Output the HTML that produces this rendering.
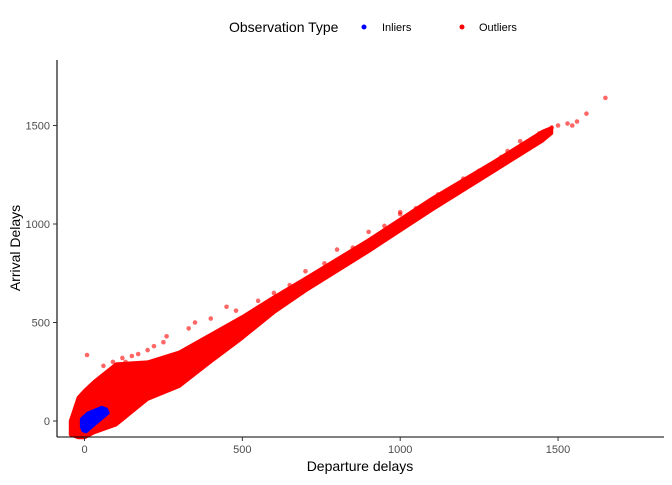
<!DOCTYPE html>
<html><head><meta charset="utf-8"><style>
body{margin:0;background:#fff;font-family:"Liberation Sans",sans-serif}
svg text{font-family:"Liberation Sans",sans-serif}
</style></head><body>
<svg width="672" height="480" id="chart">
<g>
<text x="229" y="32" font-size="14" fill="#000">Observation Type</text>
<circle cx="364" cy="27" r="2.5" fill="#0000ff"/>
<text x="382" y="31" font-size="11">Inliers</text>
<circle cx="462" cy="27" r="2.5" fill="#ff0000"/>
<text x="479" y="31" font-size="11">Outliers</text>
</g>
<g id="plot"></g>
<line x1="57" y1="60" x2="57" y2="437" stroke="#000" stroke-width="1.1"/>
<line x1="57" y1="437" x2="664" y2="437" stroke="#000" stroke-width="1.1"/>
<g id="axes"></g>
<text x="360" y="471" font-size="14" text-anchor="middle">Departure delays</text>
<text transform="translate(20,248) rotate(-90)" font-size="14" text-anchor="middle">Arrival Delays</text>
</svg>
<script>
const xTicks=[0,500,1000,1500];
const yTicks=[0,500,1000,1500];
const bandX=[-45,-20,0,30,100,200,300,400,500,600,700,900,1100,1300,1450,1480];
const bandTop=[0,120,155,200,290,300,350,440,530,630,725,920,1130,1320,1470,1490];
const bandBot=[-70,-85,-85,-60,-20,110,175,300,420,550,660,860,1070,1270,1420,1460];
const inlierX=[-10,-5,5,30,75,70,55,10,-10];
const inlierY=[-30,-50,-55,-20,40,60,70,40,10];
const outX=[8,1650,1590,1500,1480,1430,1400,1320,1290,1250,1230,1200,1150,1100,1050,1000,200,250,330,400,600,700,800,1000,550,150,120,90,60,260,350,450,650,900,1380,1440,1340,1530,1545,1560,1460,1410,1360,1180,1120,950,850,760,480,220,170,130];
const outY=[335,1640,1560,1500,1490,1430,1380,1340,1300,1270,1240,1230,1170,1120,1080,1050,360,400,470,520,650,760,870,1060,610,330,320,300,280,430,500,580,690,960,1420,1460,1370,1510,1500,1520,1450,1400,1350,1190,1150,990,880,800,560,380,340,300];
const X=v=>84.5+v*0.3157, Y=v=>421-v*0.197;
const NS='http://www.w3.org/2000/svg';
const plot=document.getElementById('plot'), axes=document.getElementById('axes');
function mk(t,a,p){const e=document.createElementNS(NS,t);for(const k in a)e.setAttribute(k,a[k]);p.appendChild(e);return e;}
let pts=bandX.map((x,i)=>X(x)+','+Y(bandTop[i]));
for(let i=bandX.length-1;i>=0;i--)pts.push(X(bandX[i])+','+Y(bandBot[i]));
const band=mk('polygon',{points:pts.join(' '),fill:'#ff0000','stroke':'#ff0000','stroke-width':3,'stroke-linejoin':'round'},plot);


outX.forEach((x,i)=>{const c=mk('circle',{cx:X(x),cy:Y(outY[i]),r:2.3,fill:'#ff0000','fill-opacity':0.6},plot);

});
const ip=inlierX.map((x,i)=>X(x)+','+Y(inlierY[i])).join(' ');
const inl=mk('polygon',{points:ip,fill:'#0000ff',stroke:'#0000ff','stroke-width':3,'stroke-linejoin':'round'},plot);


xTicks.forEach(t=>{mk('line',{x1:X(t),x2:X(t),y1:437,y2:441,stroke:'#333'},axes);
const tx=mk('text',{x:X(t),y:453,'font-size':11,fill:'#4d4d4d','text-anchor':'middle'},axes);tx.textContent=t;

});
yTicks.forEach(t=>{mk('line',{x1:53,x2:57,y1:Y(t),y2:Y(t),stroke:'#333'},axes);
const tx=mk('text',{x:50,y:Y(t)+4,'font-size':11,fill:'#4d4d4d','text-anchor':'end'},axes);tx.textContent=t;

});
</script>
</body></html>
